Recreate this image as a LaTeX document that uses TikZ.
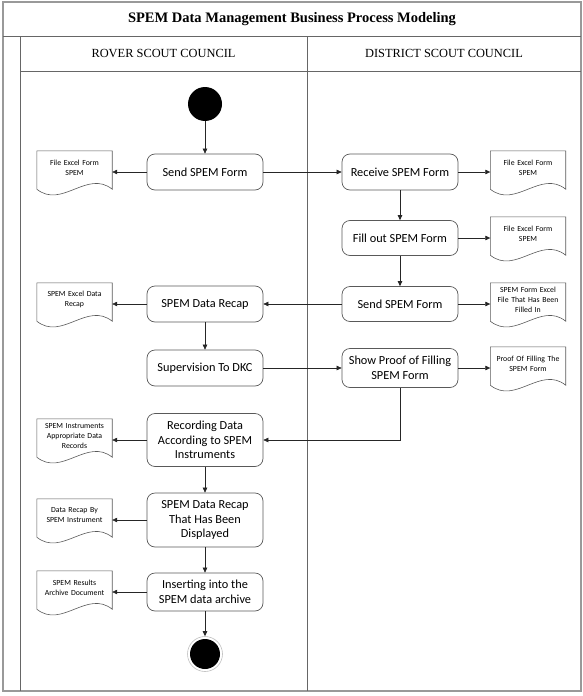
\documentclass[tikz,border=0pt]{standalone}
\usepackage{fontspec}
\setmainfont{Liberation Serif}
\newfontfamily\calibri{Carlito}
\usetikzlibrary{positioning,arrows.meta,calc}

\begin{document}
\begin{tikzpicture}[x=1pt,y=-1pt,
  act/.style={draw=black!65,line width=0.7pt,rounded corners=8pt,minimum width=116pt,minimum height=36pt,align=center,inner sep=2pt,font=\calibri\fontsize{12.3}{14.5}\selectfont},
  doc/.style={minimum width=75pt,minimum height=38pt,text width=73pt,align=center,inner sep=0pt,font=\calibri\fontsize{7.8}{10}\selectfont},
  docline/.style={draw=black!65,line width=0.6pt},
  flow/.style={-{Triangle[length=5pt,width=4.5pt]},black!85,line width=0.6pt},
  lane/.style={draw=black!60,line width=0.8pt},
  startdot/.style={circle,fill=black,minimum size=34pt,inner sep=0pt},
  enddot/.style={circle,draw=black!25,line width=0.6pt,minimum size=35pt,inner sep=0pt,path picture={\fill[black] (path picture bounding box.center) circle (15pt);}}]

  \useasboundingbox (0,0) rectangle (583,696);

  % swimlanes
  \draw[black!40,line width=1.4pt] (3,2) rectangle (581,691);
  \draw[lane] (3,36) -- (581,36);
  \draw[lane] (20,36) -- (20,691);
  \draw[lane] (20,71) -- (581,71);
  \draw[lane] (307,36) -- (307,691);

  \node[font=\bfseries\fontsize{14.5}{17}\selectfont] (title) at (292,19) {SPEM Data Management Business Process Modeling};
  \node[font=\fontsize{12.4}{15}\selectfont] (rover) at (163.5,53.5) {ROVER SCOUT COUNCIL};
  \node[font=\fontsize{12.4}{15}\selectfont] (district) at (444,53.5) {DISTRICT SCOUT COUNCIL};

  % rover scout council
  \node[startdot] (start) at (205,104) {};
  \node[act] (r1) at (205,172) {Send SPEM Form};
  \node[act] (r2) at (205,304) {SPEM Data Recap};
  \node[act] (r3) at (205,368) {Supervision To DKC};
  \node[act,minimum height=53pt] (r4) at (205,440) {Recording Data\\According to SPEM\\Instruments};
  \node[act,minimum height=54pt] (r5) at (205,520) {SPEM Data Recap\\That Has Been\\Displayed};
  \node[act,minimum height=38pt] (r6) at (205,592) {Inserting into the\\SPEM data archive};
  \node[enddot] (r7) at (205,654) {};

  % district scout council
  \node[act] (d1) at (400,172) {Receive SPEM Form};
  \node[act,minimum height=35pt] (d2) at (400,238) {Fill out SPEM Form};
  \node[act,minimum height=35pt] (d3) at (400,304) {Send SPEM Form};
  \node[act,minimum height=39pt] (d4) at (400,368) {Show Proof of Filling\\SPEM Form};

  % documents
  \node[doc] (fa) at (74.5,167.5) {File Excel Form\\SPEM};
  \node[doc] (fb) at (74.5,299.5) {SPEM Excel Data\\Recap};
  \node[doc] (fc) at (74.5,435.5) {SPEM Instruments\\Appropriate Data\\Records};
  \node[doc] (fd) at (74.5,515.5) {Data Recap By\\SPEM Instrument};
  \node[doc] (fe) at (74.5,587.5) {SPEM Results\\Archive Document};
  \node[doc] (ff) at (528,167.5) {File Excel Form\\SPEM};
  \node[doc] (fg) at (528,233.5) {File Excel Form\\SPEM};
  \node[doc] (fh) at (528,299.5) {SPEM Form Excel\\File That Has Been\\Filled In};
  \node[doc] (fi) at (528,363.5) {Proof Of Filling The\\SPEM Form};

  \foreach \f in {fa,fb,fc,fd,fe,ff,fg,fh,fi}
    \draw[docline] ($(\f.south west)+(0,2.5)$) -- ($(\f.north west)+(0,2.5)$) -- ($(\f.north east)+(0,2.5)$) -- ($(\f.south east)+(0,2.5)$)
      .. controls ($(\f.south east)+(-25,-17.5)$) and ($(\f.south west)+(25,22.5)$) .. ($(\f.south west)+(0,2.5)$);

  % flows
  \draw[flow] (start) -- (r1);
  \draw[flow] (r1) -- (r1.west -| fa.east);
  \draw[flow] (r1) -- (d1);
  \draw[flow] (d1) -- (d1.east -| ff.west);
  \draw[flow] (d1) -- (d2);
  \draw[flow] (d2) -- (d2.east -| fg.west);
  \draw[flow] (d2) -- (d3);
  \draw[flow] (d3) -- (d3.east -| fh.west);
  \draw[flow] (d3) -- (r2);
  \draw[flow] (r2) -- (r2.west -| fb.east);
  \draw[flow] (r2) -- (r3);
  \draw[flow] (r3) -- (d4);
  \draw[flow] (d4) -- (d4.east -| fi.west);
  \draw[flow] (d4.south) |- (r4.east);
  \draw[flow] (r4) -- (r4.west -| fc.east);
  \draw[flow] (r4) -- (r5);
  \draw[flow] (r5) -- (r5.west -| fd.east);
  \draw[flow] (r5) -- (r6);
  \draw[flow] (r6) -- (r6.west -| fe.east);
  \draw[flow] (r6) -- (r7);
\end{tikzpicture}
\end{document}
